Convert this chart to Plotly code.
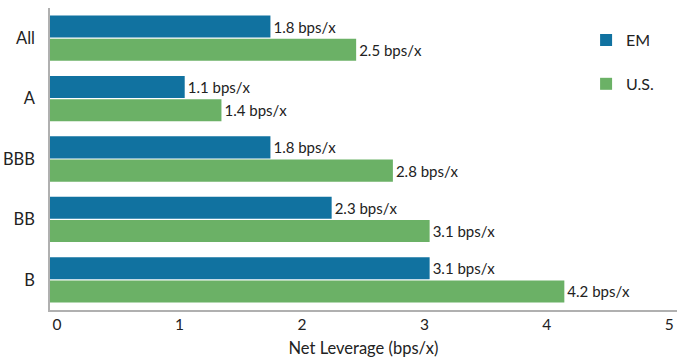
import plotly.graph_objects as go

ratings = ["All", "A", "BBB", "BB", "B"]
em_values = [1.8, 1.1, 1.8, 2.3, 3.1]
us_values = [2.5, 1.4, 2.8, 3.1, 4.2]
x_ticks = [0, 1, 2, 3, 4, 5]

EM_COLOR = "#1172a0"
US_COLOR = "#6bb166"
FONT = "Lato, Open Sans, sans-serif"
TEXT = "#222222"


def labels(vals):
    return [f"{v:.1f} bps/x" for v in vals]


fig = go.Figure()
fig.add_trace(go.Bar(
    name="EM", y=ratings, x=em_values, orientation="h",
    marker=dict(color=EM_COLOR, line=dict(width=0)),
    text=labels(em_values), textposition="outside",
    textfont=dict(size=15, color=TEXT, family=FONT),
    cliponaxis=False, legendgroup="em",
))
fig.add_trace(go.Bar(
    name="U.S.", y=ratings, x=us_values, orientation="h",
    marker=dict(color=US_COLOR, line=dict(width=0)),
    text=labels(us_values), textposition="outside",
    textfont=dict(size=15, color=TEXT, family=FONT),
    cliponaxis=False, legendgroup="us",
))

fig.update_layout(
    width=677, height=364,
    margin=dict(l=50, r=0, t=8, b=54),
    paper_bgcolor="white", plot_bgcolor="white",
    barmode="group", bargap=0.23, bargroupgap=0.05,
    font=dict(family=FONT, size=15, color=TEXT),
    showlegend=True,
    legend=dict(
        x=0.855, y=0.95, xanchor="left", yanchor="top",
        traceorder="grouped", tracegroupgap=20,
        font=dict(size=16, color=TEXT, family=FONT),
        itemwidth=30, bgcolor="rgba(0,0,0,0)",
    ),
    xaxis=dict(
        range=[0, 5.12], tickvals=x_ticks, ticktext=[str(t) for t in x_ticks],
        showgrid=False, zeroline=False,
        showline=True, linecolor="#b0b0b0", linewidth=1.5,
        ticks="", tickfont=dict(size=15.5, color=TEXT), ticklabelshift=7,
        title=dict(text="Net Leverage (bps/x)", font=dict(size=16.5, color=TEXT), standoff=10),
    ),
    yaxis=dict(
        categoryorder="array", categoryarray=ratings, autorange="reversed",
        showgrid=False, zeroline=False,
        showline=True, linecolor="#b0b0b0", linewidth=1.5,
        ticks="", tickfont=dict(size=16.5, color=TEXT), ticklabelstandoff=10,
    ),
)

fig.write_html("out.html")
